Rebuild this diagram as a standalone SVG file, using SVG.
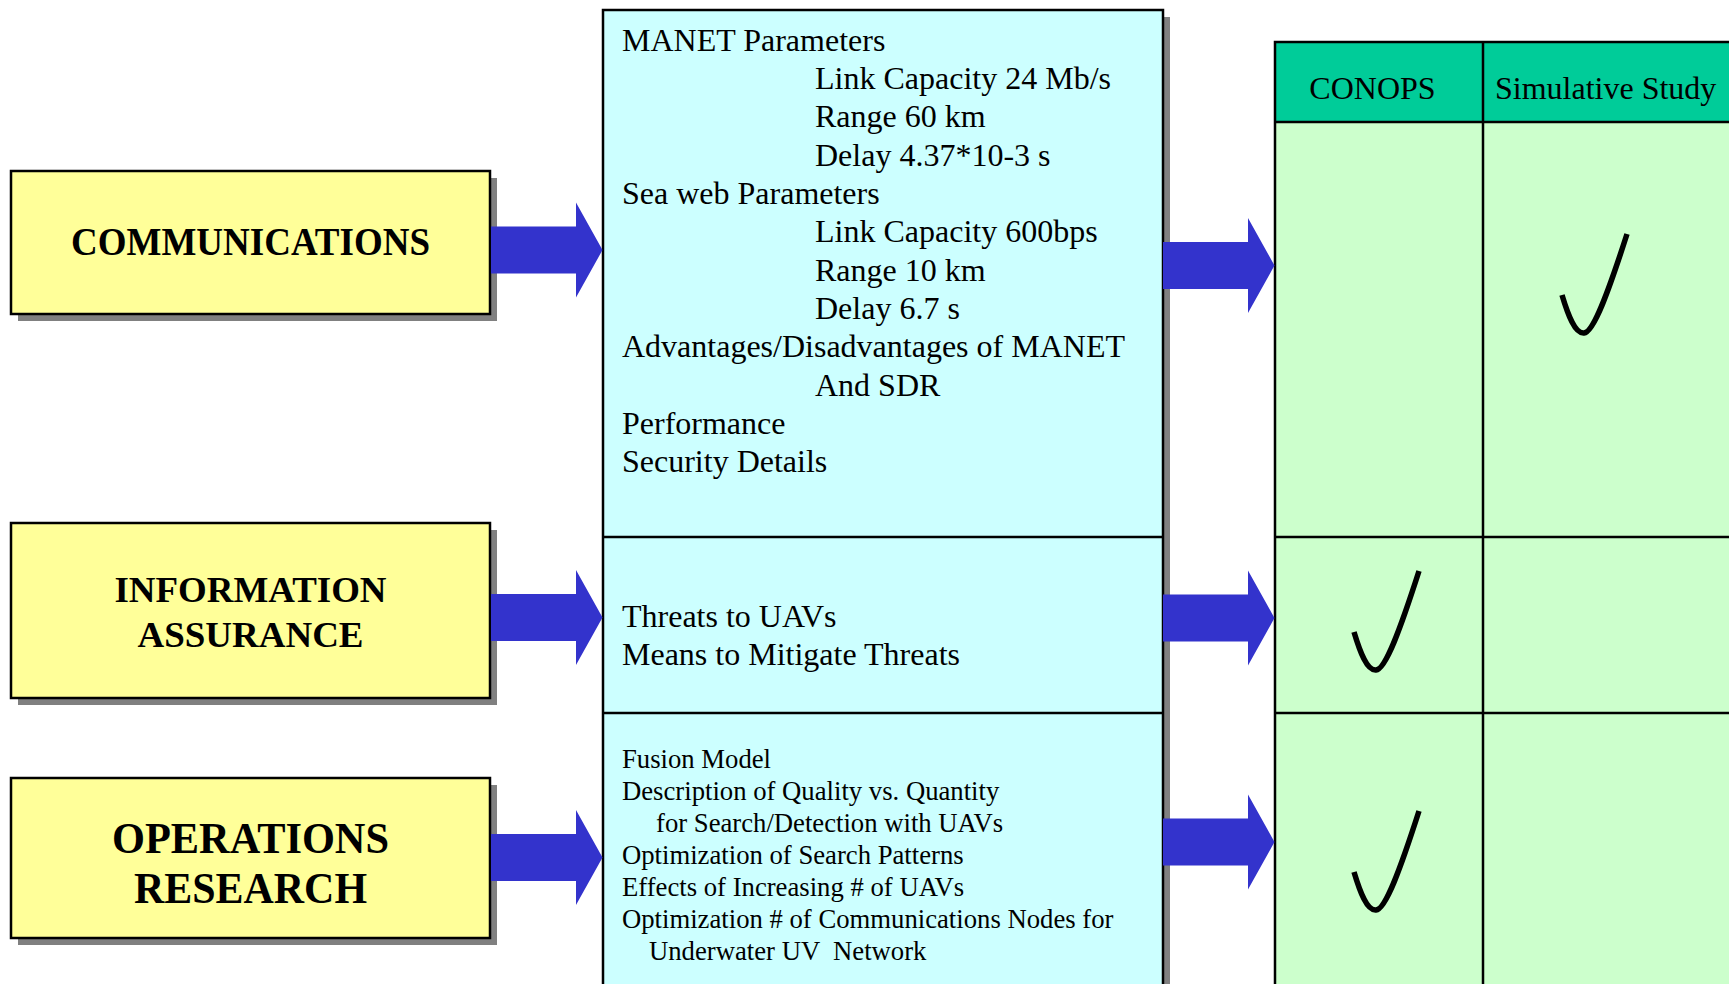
<svg xmlns="http://www.w3.org/2000/svg" xmlns:xlink="http://www.w3.org/1999/xlink" width="1729" height="984" viewBox="0 0 1729 984">
  <style>
    .box { fill: #FFFF99; stroke: #000; stroke-width: 2.5; }
    .shadow { fill: #808080; }
    .panel { fill: #CCFFFF; stroke: #000; stroke-width: 2.5; }
    .rule { stroke: #000; stroke-width: 2.5; fill: none; }
    .lbl { font-family: "Liberation Serif", "Times New Roman", serif; font-weight: bold; fill: #000; text-anchor: middle; }
    .txt { font-family: "Liberation Serif", "Times New Roman", serif; font-size: 32px; fill: #000; }
    .sm { font-size: 26.7px; }
    .arrow { fill: #3333CC; }
    .tick { fill: none; stroke: #000; stroke-width: 5.5; }
  </style>
  <defs>
    <path id="arrow" d="M0 -23.5 H85 V-47.5 L111.5 0 L85 47.5 V23.5 H0 Z"/>
    <path id="tick" d="M -22 -38 C -16 -18, -9 1, 0 0 C 10 -1, 25 -43, 43 -99"/>
  </defs>

  <rect width="1729" height="984" fill="#FFFFFF"/>

  <!-- results table -->
  <g id="table">
    <rect x="1275" y="42" width="520" height="80" fill="#00CC99"/>
    <rect x="1275" y="122" width="520" height="900" fill="#CCFFCC"/>
    <path class="rule" d="M1275 1000 V42 H1760 M1275 122 H1760 M1275 537 H1760 M1275 713 H1760 M1483 42 V1000"/>
    <text class="txt" x="1372.5" y="99" text-anchor="middle">CONOPS</text>
    <text class="txt" x="1495" y="99">Simulative Study</text>
    <use href="#tick" class="tick" x="1584" y="333"/>
    <use href="#tick" class="tick" x="1376" y="670"/>
    <use href="#tick" class="tick" x="1376" y="910"/>
  </g>

  <!-- topic boxes -->
  <g id="communications">
    <rect class="shadow" x="18" y="178" width="479" height="143"/>
    <rect class="box" x="11" y="171" width="479" height="143"/>
    <text class="lbl" x="250.5" y="255" font-size="39" textLength="359" lengthAdjust="spacingAndGlyphs">COMMUNICATIONS</text>
  </g>
  <g id="information-assurance">
    <rect class="shadow" x="18" y="530" width="479" height="175"/>
    <rect class="box" x="11" y="523" width="479" height="175"/>
    <text class="lbl" x="250.5" y="602" font-size="35" textLength="272" lengthAdjust="spacingAndGlyphs">INFORMATION</text>
    <text class="lbl" x="250.5" y="646.5" font-size="35" textLength="226" lengthAdjust="spacingAndGlyphs">ASSURANCE</text>
  </g>
  <g id="operations-research">
    <rect class="shadow" x="18" y="785" width="479" height="160"/>
    <rect class="box" x="11" y="778" width="479" height="160"/>
    <text class="lbl" x="250.5" y="853" font-size="44" textLength="277" lengthAdjust="spacingAndGlyphs">OPERATIONS</text>
    <text class="lbl" x="250.5" y="902.5" font-size="44" textLength="233" lengthAdjust="spacingAndGlyphs">RESEARCH</text>
  </g>

  <!-- detail panel -->
  <g id="details">
    <rect class="shadow" x="610" y="17" width="560" height="1000"/>
    <rect class="panel" x="603" y="10" width="560" height="1000"/>
    <path class="rule" d="M603 537 H1163 M603 713 H1163"/>
    <g class="txt">
      <text x="622" y="50.5">MANET Parameters</text>
      <text x="815" y="88.9">Link Capacity 24 Mb/s</text>
      <text x="815" y="127.2">Range 60 km</text>
      <text x="815" y="165.6">Delay 4.37*10-3 s</text>
      <text x="622" y="203.9">Sea web Parameters</text>
      <text x="815" y="242.3">Link Capacity 600bps</text>
      <text x="815" y="280.6">Range 10 km</text>
      <text x="815" y="319">Delay 6.7 s</text>
      <text x="622" y="357.3">Advantages/Disadvantages of MANET</text>
      <text x="815" y="395.7">And SDR</text>
      <text x="622" y="434">Performance</text>
      <text x="622" y="472.4">Security Details</text>

      <text x="622" y="627">Threats to UAVs</text>
      <text x="622" y="665">Means to Mitigate Threats</text>

      <text class="sm" x="622" y="768.3">Fusion Model</text>
      <text class="sm" x="622" y="800.2">Description of Quality vs. Quantity</text>
      <text class="sm" x="656" y="832.2">for Search/Detection with UAVs</text>
      <text class="sm" x="622" y="864.1">Optimization of Search Patterns</text>
      <text class="sm" x="622" y="896">Effects of Increasing # of UAVs</text>
      <text class="sm" x="622" y="928">Optimization # of Communications Nodes for</text>
      <text class="sm" x="649" y="960" style="white-space:pre">Underwater UV  Network</text>
    </g>
  </g>

  <!-- block arrows -->
  <g id="connectors" class="arrow">
    <use href="#arrow" x="491" y="250"/>
    <use href="#arrow" x="491" y="617.5"/>
    <use href="#arrow" x="491" y="857.5"/>
    <use href="#arrow" x="1163" y="265.5"/>
    <use href="#arrow" x="1163" y="618"/>
    <use href="#arrow" x="1163" y="842"/>
  </g>
</svg>
